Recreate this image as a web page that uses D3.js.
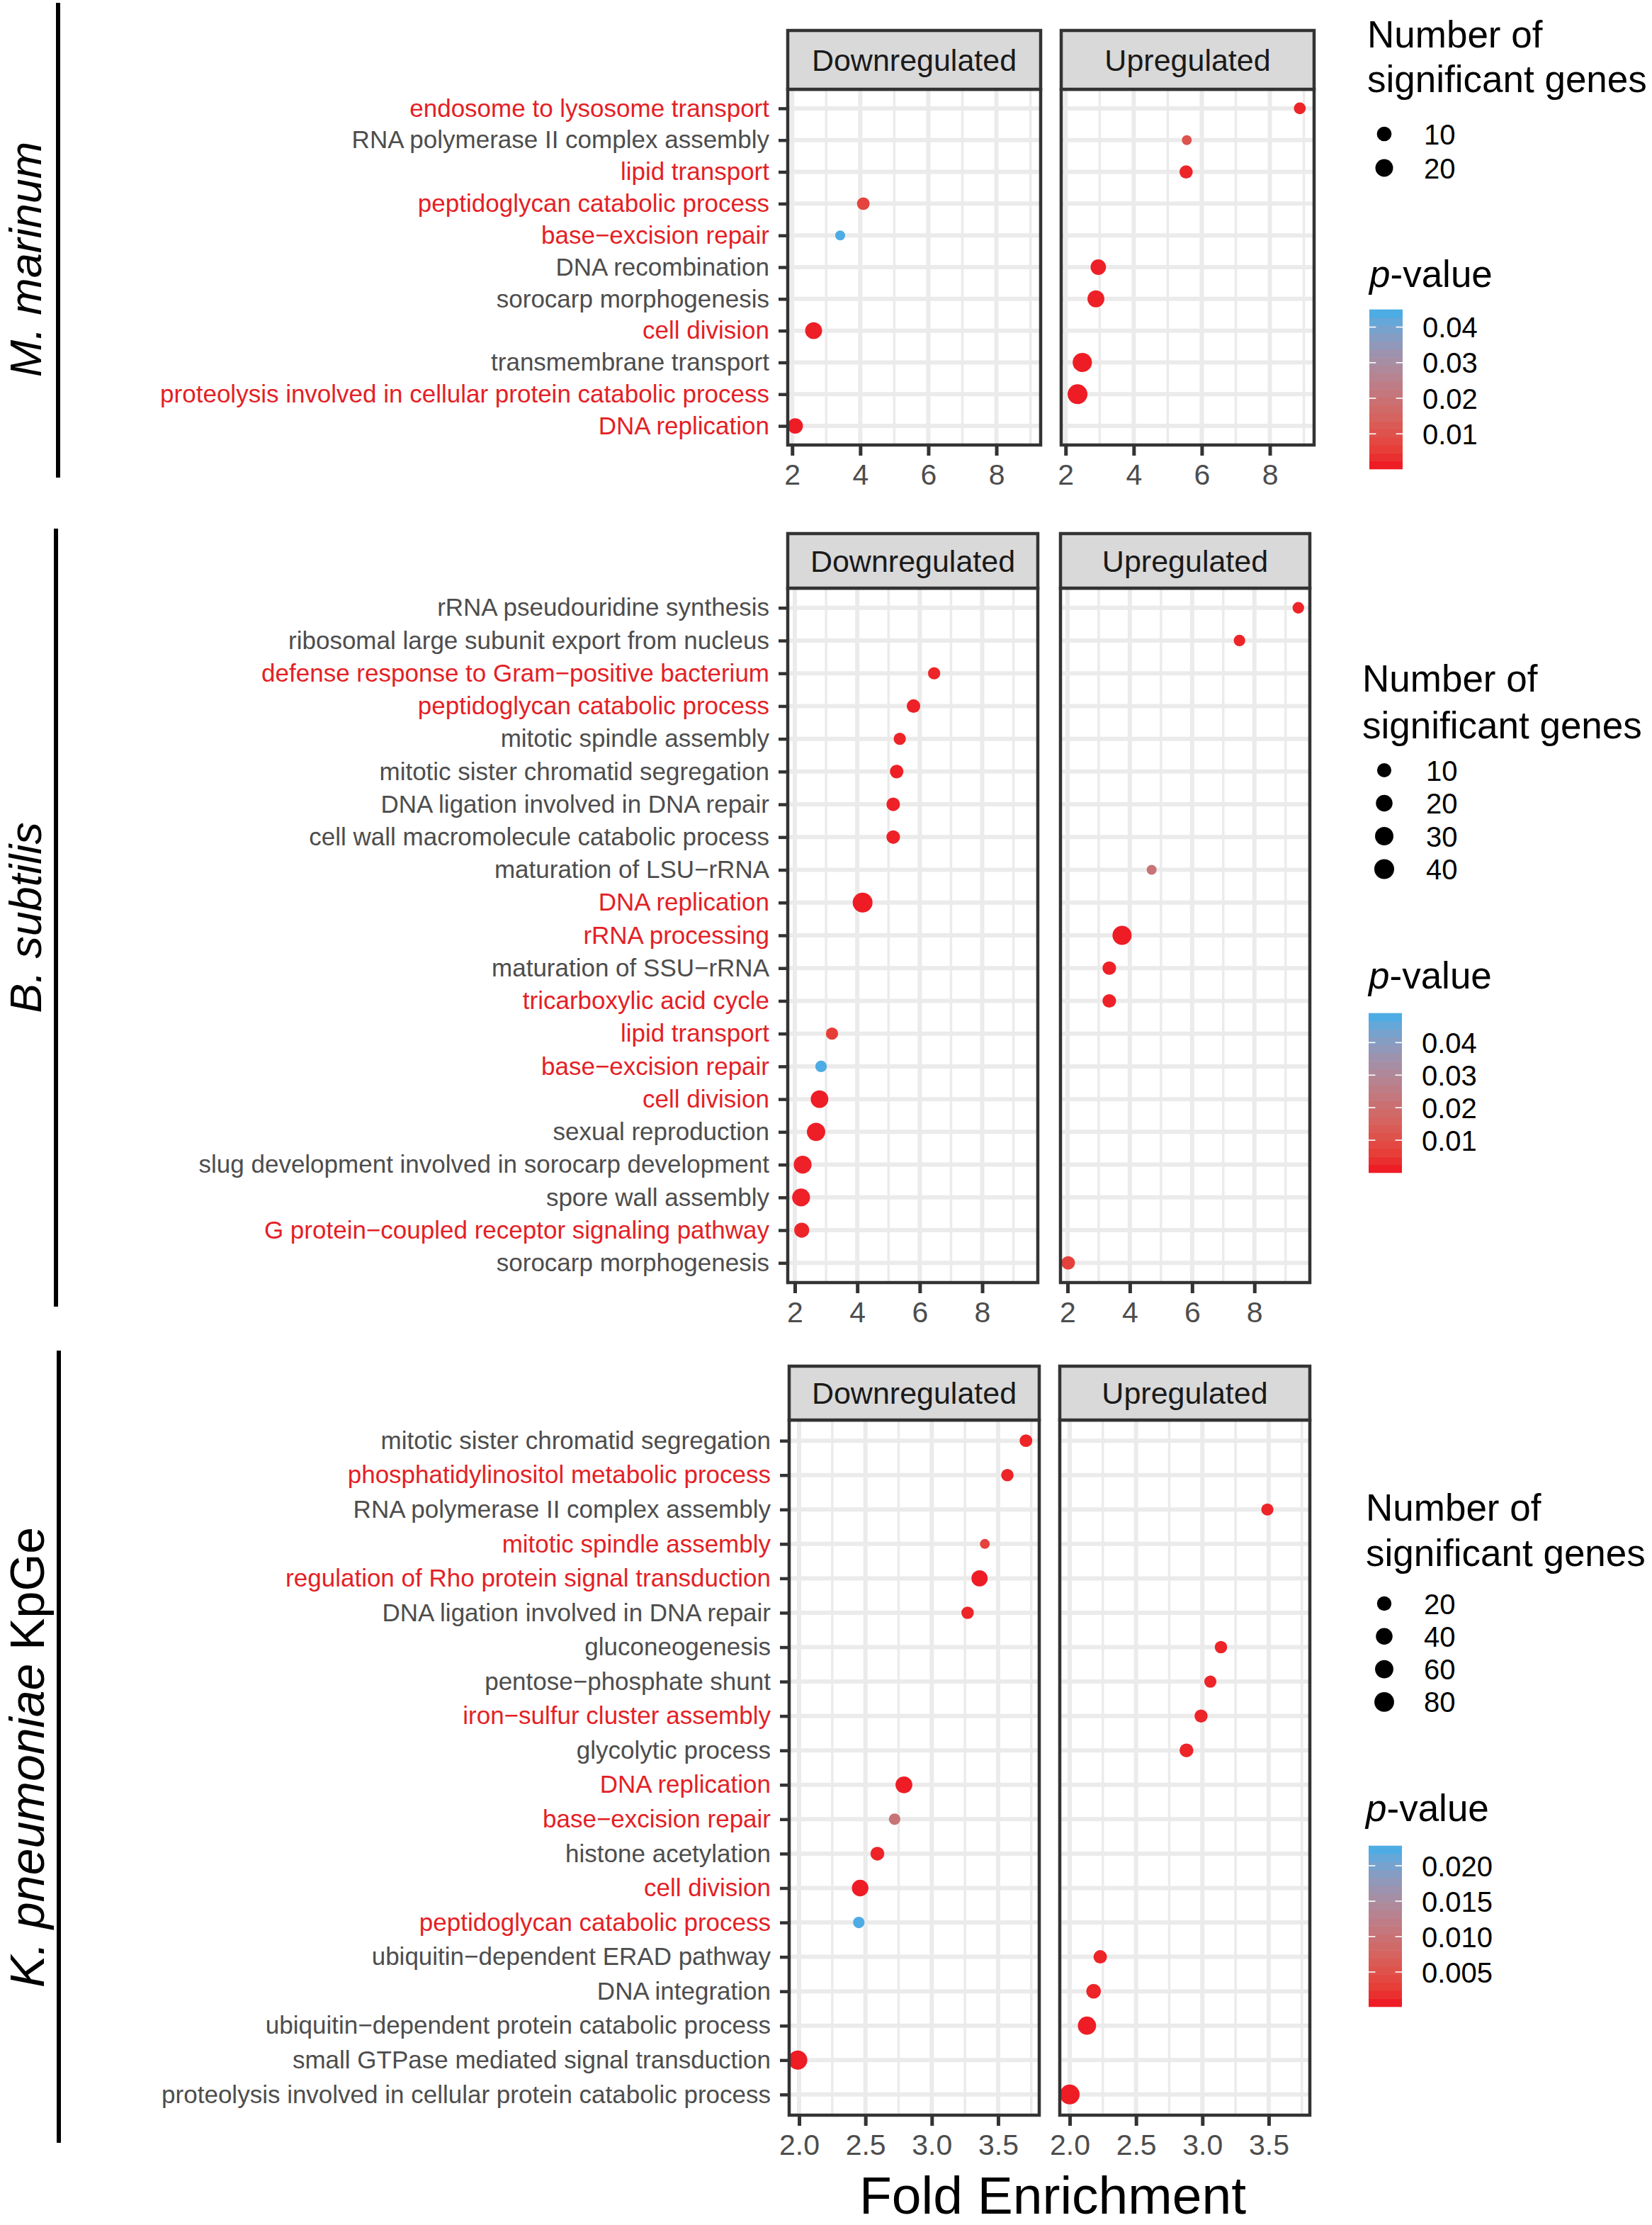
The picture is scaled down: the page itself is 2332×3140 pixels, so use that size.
<!DOCTYPE html>
<html>
<head>
<meta charset="utf-8">
<script src="https://cdn.jsdelivr.net/npm/d3@7"></script>
<style>
  body { margin: 0; background: #fff; }
  text { font-family: "Liberation Sans", Arial, Helvetica, sans-serif; }
</style>
</head>
<body>
<div id="chart"></div>
<script>
// ---------------- data ----------------
const directions = ["Downregulated", "Upregulated"];

// M. marinum
const marinumTerms = [
  "endosome to lysosome transport",
  "RNA polymerase II complex assembly",
  "lipid transport",
  "peptidoglycan catabolic process",
  "base−excision repair",
  "DNA recombination",
  "sorocarp morphogenesis",
  "cell division",
  "transmembrane transport",
  "proteolysis involved in cellular protein catabolic process",
  "DNA replication"
];
const marinumRed = [
  "endosome to lysosome transport", "lipid transport", "peptidoglycan catabolic process",
  "base−excision repair", "cell division",
  "proteolysis involved in cellular protein catabolic process", "DNA replication"
];
const marinumDown = [
  {term: "peptidoglycan catabolic process", fold: 4.09, genes: 6, p: 0.006},
  {term: "base−excision repair", fold: 3.41, genes: 4, p: 0.0449},
  {term: "cell division", fold: 2.63, genes: 17, p: 0.0003},
  {term: "DNA replication", fold: 2.09, genes: 12, p: 0.0001}
];
const marinumUp = [
  {term: "endosome to lysosome transport", fold: 8.88, genes: 5, p: 0.001},
  {term: "RNA polymerase II complex assembly", fold: 5.56, genes: 4, p: 0.010},
  {term: "lipid transport", fold: 5.54, genes: 7, p: 0.001},
  {term: "DNA recombination", fold: 2.96, genes: 12, p: 0.0005},
  {term: "sorocarp morphogenesis", fold: 2.89, genes: 17, p: 0.0005},
  {term: "transmembrane transport", fold: 2.49, genes: 27, p: 0.0002},
  {term: "proteolysis involved in cellular protein catabolic process", fold: 2.35, genes: 30, p: 0.0001}
];
const marinumTicks = [2, 4, 6, 8];
const marinumSizeBreaks = [10, 20];
const marinumPBreaks = [0.01, 0.02, 0.03, 0.04];

// B. subtilis
const subtilisTerms = [
  "rRNA pseudouridine synthesis",
  "ribosomal large subunit export from nucleus",
  "defense response to Gram−positive bacterium",
  "peptidoglycan catabolic process",
  "mitotic spindle assembly",
  "mitotic sister chromatid segregation",
  "DNA ligation involved in DNA repair",
  "cell wall macromolecule catabolic process",
  "maturation of LSU−rRNA",
  "DNA replication",
  "rRNA processing",
  "maturation of SSU−rRNA",
  "tricarboxylic acid cycle",
  "lipid transport",
  "base−excision repair",
  "cell division",
  "sexual reproduction",
  "slug development involved in sorocarp development",
  "spore wall assembly",
  "G protein−coupled receptor signaling pathway",
  "sorocarp morphogenesis"
];
const subtilisRed = [
  "defense response to Gram−positive bacterium", "peptidoglycan catabolic process",
  "DNA replication", "rRNA processing", "tricarboxylic acid cycle", "lipid transport",
  "base−excision repair", "cell division", "G protein−coupled receptor signaling pathway"
];
const subtilisDown = [
  {term: "defense response to Gram−positive bacterium", fold: 6.46, genes: 5, p: 0.001},
  {term: "peptidoglycan catabolic process", fold: 5.80, genes: 8, p: 0.0005},
  {term: "mitotic spindle assembly", fold: 5.36, genes: 5, p: 0.001},
  {term: "mitotic sister chromatid segregation", fold: 5.26, genes: 8, p: 0.0005},
  {term: "DNA ligation involved in DNA repair", fold: 5.15, genes: 8, p: 0.0005},
  {term: "cell wall macromolecule catabolic process", fold: 5.15, genes: 8, p: 0.0005},
  {term: "DNA replication", fold: 4.17, genes: 40, p: 0.00001},
  {term: "lipid transport", fold: 3.19, genes: 5, p: 0.005},
  {term: "base−excision repair", fold: 2.84, genes: 4, p: 0.049},
  {term: "cell division", fold: 2.79, genes: 25, p: 0.0002},
  {term: "sexual reproduction", fold: 2.68, genes: 30, p: 0.0002},
  {term: "slug development involved in sorocarp development", fold: 2.25, genes: 27, p: 0.0005},
  {term: "spore wall assembly", fold: 2.20, genes: 27, p: 0.0005},
  {term: "G protein−coupled receptor signaling pathway", fold: 2.22, genes: 13, p: 0.001}
];
const subtilisUp = [
  {term: "rRNA pseudouridine synthesis", fold: 9.41, genes: 4, p: 0.001},
  {term: "ribosomal large subunit export from nucleus", fold: 7.52, genes: 4, p: 0.001},
  {term: "maturation of LSU−rRNA", fold: 4.70, genes: 3, p: 0.022},
  {term: "rRNA processing", fold: 3.75, genes: 35, p: 0.00001},
  {term: "maturation of SSU−rRNA", fold: 3.34, genes: 8, p: 0.0005},
  {term: "tricarboxylic acid cycle", fold: 3.34, genes: 8, p: 0.0005},
  {term: "sorocarp morphogenesis", fold: 2.02, genes: 8, p: 0.006}
];
const subtilisTicks = [2, 4, 6, 8];
const subtilisSizeBreaks = [10, 20, 30, 40];
const subtilisPBreaks = [0.01, 0.02, 0.03, 0.04];

// K. pneumoniae KpGe
const pneumoniaeTerms = [
  "mitotic sister chromatid segregation",
  "phosphatidylinositol metabolic process",
  "RNA polymerase II complex assembly",
  "mitotic spindle assembly",
  "regulation of Rho protein signal transduction",
  "DNA ligation involved in DNA repair",
  "gluconeogenesis",
  "pentose−phosphate shunt",
  "iron−sulfur cluster assembly",
  "glycolytic process",
  "DNA replication",
  "base−excision repair",
  "histone acetylation",
  "cell division",
  "peptidoglycan catabolic process",
  "ubiquitin−dependent ERAD pathway",
  "DNA integration",
  "ubiquitin−dependent protein catabolic process",
  "small GTPase mediated signal transduction",
  "proteolysis involved in cellular protein catabolic process"
];
const pneumoniaeRed = [
  "phosphatidylinositol metabolic process", "mitotic spindle assembly",
  "regulation of Rho protein signal transduction", "iron−sulfur cluster assembly",
  "DNA replication", "base−excision repair", "cell division", "peptidoglycan catabolic process"
];
const pneumoniaeDown = [
  {term: "mitotic sister chromatid segregation", fold: 3.71, genes: 10, p: 0.0005},
  {term: "phosphatidylinositol metabolic process", fold: 3.57, genes: 9, p: 0.0005},
  {term: "mitotic spindle assembly", fold: 3.40, genes: 4, p: 0.003},
  {term: "regulation of Rho protein signal transduction", fold: 3.36, genes: 35, p: 0.0001},
  {term: "DNA ligation involved in DNA repair", fold: 3.27, genes: 9, p: 0.0005},
  {term: "DNA replication", fold: 2.79, genes: 42, p: 0.0001},
  {term: "base−excision repair", fold: 2.72, genes: 6, p: 0.0103},
  {term: "histone acetylation", fold: 2.59, genes: 16, p: 0.0005},
  {term: "cell division", fold: 2.46, genes: 39, p: 0.0001},
  {term: "peptidoglycan catabolic process", fold: 2.45, genes: 6, p: 0.0228},
  {term: "small GTPase mediated signal transduction", fold: 1.99, genes: 70, p: 0.0001}
];
const pneumoniaeUp = [
  {term: "RNA polymerase II complex assembly", fold: 3.49, genes: 8, p: 0.0005},
  {term: "gluconeogenesis", fold: 3.14, genes: 9, p: 0.0005},
  {term: "pentose−phosphate shunt", fold: 3.06, genes: 8, p: 0.0005},
  {term: "iron−sulfur cluster assembly", fold: 2.99, genes: 12, p: 0.0005},
  {term: "glycolytic process", fold: 2.88, genes: 16, p: 0.0005},
  {term: "ubiquitin−dependent ERAD pathway", fold: 2.23, genes: 14, p: 0.0005},
  {term: "DNA integration", fold: 2.18, genes: 22, p: 0.0005},
  {term: "ubiquitin−dependent protein catabolic process", fold: 2.13, genes: 59, p: 0.0001},
  {term: "proteolysis involved in cellular protein catabolic process", fold: 2.00, genes: 82, p: 0.0001}
];
const pneumoniaeTicks = [2.0, 2.5, 3.0, 3.5];
const pneumoniaeSizeBreaks = [20, 40, 60, 80];
const pneumoniaePBreaks = [0.005, 0.010, 0.015, 0.020];

// ---------------- layout ----------------
const W = 2332, H = 3140;
const greyText = "#4D4D4D", redText = "#E41F26", dark = "#333333", gridCol = "#EBEBEB";
const lowCol = "#EE1C25", highCol = "#4DACE3";
const sizeRange = [7, 14];

const sections = [
  {
    label: [{t: "M. marinum", italic: true}], labelX: 58, labelY: 366, labelSize: 63,
    lineX: 82, lineY: [4, 674],
    terms: marinumTerms, red: marinumRed, data: [marinumDown, marinumUp],
    ticks: marinumTicks, fmt: d3.format("d"), xlim: [1.87, 9.30],
    panels: [[1112, 1469], [1498, 1855]], strip: [43, 126], plot: [126, 628],
    sizeBreaks: marinumSizeBreaks, pBreaks: marinumPBreaks, pFmt: d3.format(".2f"),
    leg: {titleX: 1930, titleY: [67, 130], keyX: 1954, labelX: 2010, keyY: 189, keyStep: 48,
          pTitleX: 1933, pTitleY: 405, barX: 1933, barY: [437, 662]}
  },
  {
    label: [{t: "B. subtilis", italic: true}], labelX: 58, labelY: 1295, labelSize: 63,
    lineX: 79, lineY: [746, 1844],
    terms: subtilisTerms, red: subtilisRed, data: [subtilisDown, subtilisUp],
    ticks: subtilisTicks, fmt: d3.format("d"), xlim: [1.773, 9.78],
    panels: [[1112, 1465], [1497, 1849]], strip: [753, 830], plot: [830, 1810],
    sizeBreaks: subtilisSizeBreaks, pBreaks: subtilisPBreaks, pFmt: d3.format(".2f"),
    leg: {titleX: 1923, titleY: [976, 1042], keyX: 1954, labelX: 2013, keyY: 1087, keyStep: 46.5,
          pTitleX: 1932, pTitleY: 1395, barX: 1932, barY: [1430, 1655]}
  },
  {
    label: [{t: "K. pneumoniae", italic: true}, {t: " KpGe", italic: false}], labelX: 62, labelY: 2480, labelSize: 68,
    lineX: 83, lineY: [1906, 3024],
    terms: pneumoniaeTerms, red: pneumoniaeRed, data: [pneumoniaeDown, pneumoniaeUp],
    ticks: pneumoniaeTicks, fmt: d3.format(".1f"), xlim: [1.925, 3.81],
    panels: [[1114, 1467], [1496, 1849]], strip: [1928, 2004], plot: [2004, 2985],
    sizeBreaks: pneumoniaeSizeBreaks, pBreaks: pneumoniaePBreaks, pFmt: d3.format(".3f"),
    leg: {titleX: 1928, titleY: [2146, 2210], keyX: 1954, labelX: 2010, keyY: 2263, keyStep: 46.3,
          pTitleX: 1928, pTitleY: 2570, barX: 1932, barY: [2605, 2832]}
  }
];

const svg = d3.select("#chart").append("svg")
    .attr("width", W).attr("height", H)
    .style("display", "block");
svg.append("rect").attr("width", W).attr("height", H).attr("fill", "#fff");

sections.forEach((sec, si) => drawSection(sec, si));

svg.append("text")
    .attr("x", 1486).attr("y", 3124)
    .attr("text-anchor", "middle")
    .attr("font-size", 75).attr("fill", "#000")
    .text("Fold Enrichment");

function drawSection(sec, si) {
  const g = svg.append("g");
  const all = sec.data[0].concat(sec.data[1]);
  const nExt = d3.extent(all, d => d.genes);
  const pExt = d3.extent(all, d => d.p);

  // ggplot-like area scale: radius linear in sqrt of rescaled count
  const rUnit = d3.scaleLinear().domain([0, 1]).range(sizeRange);
  const rOf = n => rUnit(Math.sqrt(Math.max(0, (n - nExt[0]) / (nExt[1] - nExt[0]))));
  const col = d3.scaleLinear().domain(pExt).range([lowCol, highCol]).interpolate(d3.interpolateLab);
  const y = d3.scalePoint().domain(sec.terms).range(sec.plot).padding(0.6);
  const red = new Set(sec.red);

  const step = sec.ticks[1] - sec.ticks[0];
  const minor = d3.range(sec.ticks[0] - step / 2, sec.ticks[sec.ticks.length - 1] + step, step)
      .filter(v => v > sec.xlim[0] && v < sec.xlim[1]);

  sec.data.forEach((pts, pi) => {
    const [x0, x1] = sec.panels[pi];
    const x = d3.scaleLinear().domain(sec.xlim).range([x0, x1]);
    const pg = g.append("g");
    const clipId = "clip-" + si + "-" + pi;
    pg.append("clipPath").attr("id", clipId).append("rect")
        .attr("x", x0).attr("y", sec.plot[0]).attr("width", x1 - x0).attr("height", sec.plot[1] - sec.plot[0]);

    const inner = pg.append("g").attr("clip-path", "url(#" + clipId + ")");
    inner.append("rect")
        .attr("x", x0).attr("y", sec.plot[0]).attr("width", x1 - x0).attr("height", sec.plot[1] - sec.plot[0])
        .attr("fill", "#fff");

    inner.selectAll(".minor").data(minor).join("line")
        .attr("x1", d => x(d)).attr("x2", d => x(d))
        .attr("y1", sec.plot[0]).attr("y2", sec.plot[1])
        .attr("stroke", gridCol).attr("stroke-width", 3.5);
    inner.selectAll(".major").data(sec.ticks).join("line")
        .attr("x1", d => x(d)).attr("x2", d => x(d))
        .attr("y1", sec.plot[0]).attr("y2", sec.plot[1])
        .attr("stroke", gridCol).attr("stroke-width", 6);
    inner.selectAll(".row").data(sec.terms).join("line")
        .attr("x1", x0).attr("x2", x1)
        .attr("y1", d => y(d)).attr("y2", d => y(d))
        .attr("stroke", gridCol).attr("stroke-width", 6);

    inner.selectAll("circle").data(pts).join("circle")
        .attr("cx", d => x(d.fold))
        .attr("cy", d => y(d.term))
        .attr("r", d => rOf(d.genes))
        .attr("fill", d => col(d.p));

    pg.append("rect")
        .attr("x", x0).attr("y", sec.plot[0]).attr("width", x1 - x0).attr("height", sec.plot[1] - sec.plot[0])
        .attr("fill", "none").attr("stroke", dark).attr("stroke-width", 4.5);

    // strip
    pg.append("rect")
        .attr("x", x0).attr("y", sec.strip[0]).attr("width", x1 - x0).attr("height", sec.strip[1] - sec.strip[0])
        .attr("fill", "#D9D9D9").attr("stroke", dark).attr("stroke-width", 4.5);
    pg.append("text")
        .attr("x", (x0 + x1) / 2).attr("y", (sec.strip[0] + sec.strip[1]) / 2 + 15)
        .attr("text-anchor", "middle").attr("font-size", 43).attr("fill", "#1A1A1A")
        .text(directions[pi]);

    // x axis
    const xa = pg.append("g")
        .attr("transform", "translate(0," + (sec.plot[1] + 2) + ")")
        .call(d3.axisBottom(x).tickValues(sec.ticks).tickFormat(sec.fmt).tickSize(13).tickPadding(12));
    xa.select(".domain").remove();
    xa.selectAll(".tick line").attr("stroke", dark).attr("stroke-width", 5);
    xa.selectAll(".tick text").attr("fill", greyText).attr("font-size", 41)
        .style("font-family", '"Liberation Sans", Arial, sans-serif');

    // y axis on left panel only
    if (pi === 0) {
      const ya = pg.append("g")
          .attr("transform", "translate(" + (x0 - 2) + ",0)")
          .call(d3.axisLeft(y).tickSize(11).tickPadding(13));
      ya.select(".domain").remove();
      ya.selectAll(".tick line").attr("stroke", dark).attr("stroke-width", 4.5);
      ya.selectAll(".tick text")
          .attr("font-size", 35)
          .style("font-family", '"Liberation Sans", Arial, sans-serif')
          .attr("fill", d => red.has(d) ? redText : greyText);
    }
  });

  // species bar and label
  g.append("line")
      .attr("x1", sec.lineX).attr("x2", sec.lineX)
      .attr("y1", sec.lineY[0]).attr("y2", sec.lineY[1])
      .attr("stroke", "#000").attr("stroke-width", 6);
  const lab = g.append("text")
      .attr("transform", "translate(" + sec.labelX + "," + sec.labelY + ") rotate(-90)")
      .attr("text-anchor", "middle").attr("font-size", sec.labelSize).attr("fill", "#000");
  sec.label.forEach(part => {
    lab.append("tspan").attr("font-style", part.italic ? "italic" : "normal").text(part.t);
  });

  // size legend
  const L = sec.leg;
  ["Number of", "significant genes"].forEach((t, i) => {
    g.append("text").attr("x", L.titleX).attr("y", L.titleY[i])
        .attr("font-size", 53).attr("fill", "#000").text(t);
  });
  sec.sizeBreaks.forEach((b, i) => {
    const cy = L.keyY + i * L.keyStep;
    g.append("circle").attr("cx", L.keyX).attr("cy", cy).attr("r", rOf(b)).attr("fill", "#000");
    g.append("text").attr("x", L.labelX).attr("y", cy + 14.5)
        .attr("font-size", 40).attr("fill", "#000").text(b);
  });

  // p-value legend
  const pt = g.append("text").attr("x", L.pTitleX).attr("y", L.pTitleY)
      .attr("font-size", 53).attr("fill", "#000");
  pt.append("tspan").attr("font-style", "italic").text("p");
  pt.append("tspan").text("-value");

  const barW = 47;
  const barY = d3.scaleLinear().domain(pExt).range([L.barY[1], L.barY[0]]);
  const nbin = 20;
  const binH = (L.barY[1] - L.barY[0]) / nbin;
  const bins = d3.range(nbin).map(i => pExt[0] + (pExt[1] - pExt[0]) * i / (nbin - 1));
  g.selectAll(null).data(bins).join("rect")
      .attr("x", L.barX).attr("width", barW)
      .attr("y", (d, i) => L.barY[1] - (i + 1) * binH - 0.3)
      .attr("height", binH + 0.6)
      .attr("fill", d => col(d));
  sec.pBreaks.forEach(b => {
    const yy = barY(b);
    [[L.barX, L.barX + barW / 5], [L.barX + barW * 4 / 5, L.barX + barW]].forEach(seg => {
      g.append("line").attr("x1", seg[0]).attr("x2", seg[1]).attr("y1", yy).attr("y2", yy)
          .attr("stroke", "#fff").attr("stroke-width", 1.6);
    });
    g.append("text").attr("x", L.barX + 75).attr("y", yy + 14.5)
        .attr("font-size", 40).attr("fill", "#000").text(sec.pFmt(b));
  });
}
</script>
</body>
</html>
